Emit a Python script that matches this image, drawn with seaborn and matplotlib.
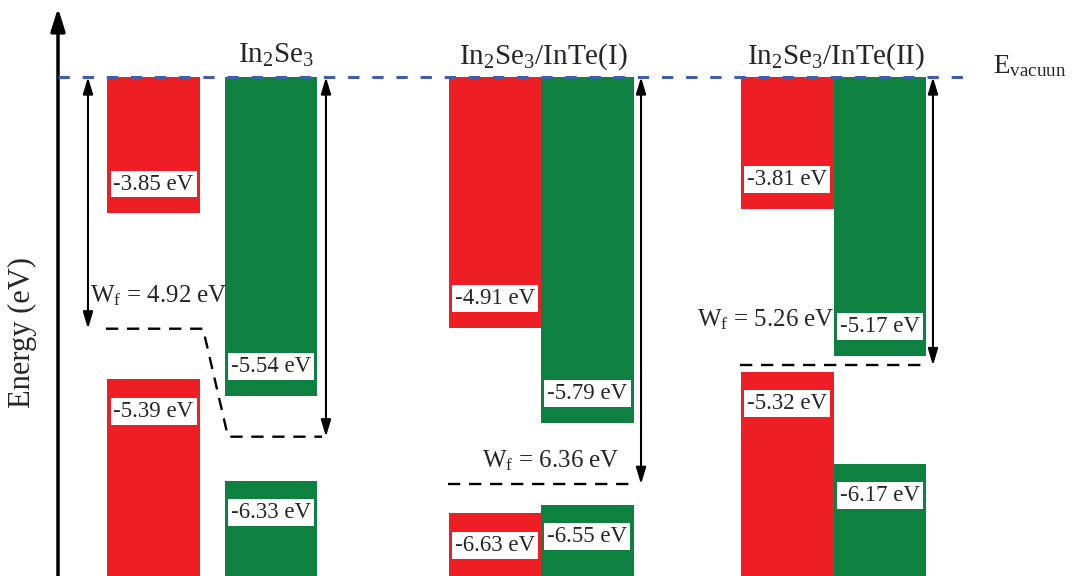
import numpy as np
import pandas as pd
import matplotlib
matplotlib.use("Agg")
import matplotlib.pyplot as plt
import seaborn as sns

# ---- band-edge data (eV, relative to the vacuum level) ----
systems = ["In$_2$Se$_3$", "In$_2$Se$_3$/InTe(I)", "In$_2$Se$_3$/InTe(II)"]
cbm_red = [-3.85, -4.91, -3.81]
vbm_red = [-5.39, -6.63, -5.32]
cbm_green = [-5.54, -5.79, -5.17]
vbm_green = [-6.33, -6.55, -6.17]
work_function = [4.92, 6.36, 5.26]
in2se3_far_level = -5.92          # Fermi level seen from the opposite In2Se3 surface

RED = "#ed1f24"
GREEN = "#0e8040"
BLUE = "#3d5fae"

sns.set_theme(style="white")
plt.rcParams["font.family"] = ["Liberation Serif", "DejaVu Serif"]
plt.rcParams["mathtext.fontset"] = "custom"
plt.rcParams["mathtext.rm"] = "Liberation Serif"
plt.rcParams["mathtext.it"] = "Liberation Serif:italic"
plt.rcParams["mathtext.bf"] = "Liberation Serif:bold"

# ---- layout: x measured in bar widths ----
group_center = np.array([1.668, 5.224, 8.386])
pair_gap = np.array([0.27, 0.0, 0.0])
red_x = group_center - 0.5 - pair_gap / 2
green_x = group_center + 0.5 + pair_gap / 2
title_x = [2.357, 5.243, 8.41]

# energy axis: linear below BREAK, squeezed between BREAK and the vacuum level
BREAK, SQUEEZE = -3.7, 0.3


def fwd(e):
    e = np.asarray(e, dtype=float)
    return np.where(e < BREAK, e, BREAK + (e - BREAK) * SQUEEZE)


def inv(t):
    t = np.asarray(t, dtype=float)
    return np.where(t < BREAK, t, BREAK + (t - BREAK) / SQUEEZE)


W, H = 1072, 576
fig = plt.figure(figsize=(W / 100, H / 100), dpi=100, facecolor="white")
ax = fig.add_axes([58 / W, 0, 1014 / W, 568 / H])
ax.set_yscale("function", functions=(fwd, inv))
YMIN = -7.21
YMAX = float(inv(-1.95))
XMAX = 1014 / 92.5
ax.set_xlim(0, XMAX)
ax.set_ylim(YMIN, YMAX)

# conduction bands hang from the vacuum level
cond = pd.DataFrame({
    "x": np.concatenate([red_x, green_x]),
    "energy": cbm_red + cbm_green,
    "side": ["red"] * 3 + ["green"] * 3,
})
sns.barplot(data=cond, x="x", y="energy", hue="side",
            palette={"red": RED, "green": GREEN}, native_scale=True,
            dodge=False, width=1.0, errorbar=None, legend=False,
            saturation=1, linewidth=0, ax=ax)

# valence bands rise from the bottom
ax.bar(red_x, np.array(vbm_red) - YMIN, bottom=YMIN, width=1.0, color=RED, lw=0)
ax.bar(green_x, np.array(vbm_green) - YMIN, bottom=YMIN, width=1.0, color=GREEN, lw=0)

box = dict(boxstyle="square,pad=0.13", fc="white", ec="none")
for xs, vals in ((red_x, cbm_red), (green_x, cbm_green)):
    for x, v in zip(xs, vals):
        ax.annotate(f"{v:.2f} eV", (x, v), xytext=(0, 21), textcoords="offset points",
                    ha="center", va="center", fontsize=16.5, bbox=box, zorder=6)
for xs, vals in ((red_x, vbm_red), (green_x, vbm_green)):
    for x, v in zip(xs, vals):
        ax.annotate(f"{v:.2f} eV", (x, v), xytext=(0, -23), textcoords="offset points",
                    ha="center", va="center", fontsize=16.5, bbox=box, zorder=6)

# vacuum level
ax.plot([0, 9.805], [0, 0], color=BLUE, lw=2.2, ls=(0, (3.7, 4.2)), zorder=5)
ax.annotate("E$_\\mathrm{vacuun}$", (10.11, 0), xytext=(0, 3), textcoords="offset points",
            ha="left", va="baseline", fontsize=19.5)

# Fermi levels (dashed)
black_dash = dict(color="black", lw=1.7, ls=(0, (5.2, 3.7)), zorder=4)
ax.plot([0.519, 1.568, 1.838, 2.854],
        [-work_function[0], -work_function[0], in2se3_far_level, in2se3_far_level], **black_dash)
ax.plot([4.216, 6.184], [-work_function[1]] * 2, **black_dash)
ax.plot([7.373, 9.341], [-work_function[2]] * 2, **black_dash)

# work-function arrows
arrow_x = [0.324, 2.897, 6.303, 9.459]
arrow_end = [-work_function[0], in2se3_far_level, -work_function[1], -work_function[2]]
for x, e in zip(arrow_x, arrow_end):
    ax.annotate("", xy=(x, 0), xytext=(x, e),
                arrowprops=dict(arrowstyle="<|-|>,head_length=1.0,head_width=0.3",
                                mutation_scale=10, lw=1.5, color="black",
                                shrinkA=0, shrinkB=0))

wf_x = [0.346, 4.584, 6.908]
wf_rise = [18.7, 12.2, 28.0]
for x, w, r in zip(wf_x, work_function, wf_rise):
    ax.annotate(f"W$_\\mathrm{{f}}$ = {w:.2f} eV", (x, -w), xytext=(0, r),
                textcoords="offset points", ha="left", va="baseline", fontsize=18)

# system titles
for x, name in zip(title_x, systems):
    ax.annotate(name, (x, 0), xytext=(0, 10), textcoords="offset points",
                ha="center", va="baseline", fontsize=21)

# energy axis drawn as an arrow
for sp in ax.spines.values():
    sp.set_visible(False)
ax.set_xticks([])
ax.set_yticks([])
ax.set_xlabel("")
ax.set_ylabel("")
ax.annotate("", xy=(0, 1), xytext=(0, 0), xycoords="axes fraction",
            arrowprops=dict(arrowstyle="-|>,head_length=1.37,head_width=0.43",
                            mutation_scale=10, lw=2.5, color="black",
                            shrinkA=0, shrinkB=0),
            annotation_clip=False)
fig.text(22 / W, 1 - 332 / H, "Energy (eV)", rotation=90, ha="center", va="center",
         fontsize=22)

ax.set_xlim(0, XMAX)
ax.set_ylim(YMIN, YMAX)
fig.savefig("out.png", dpi=100, facecolor="white")
